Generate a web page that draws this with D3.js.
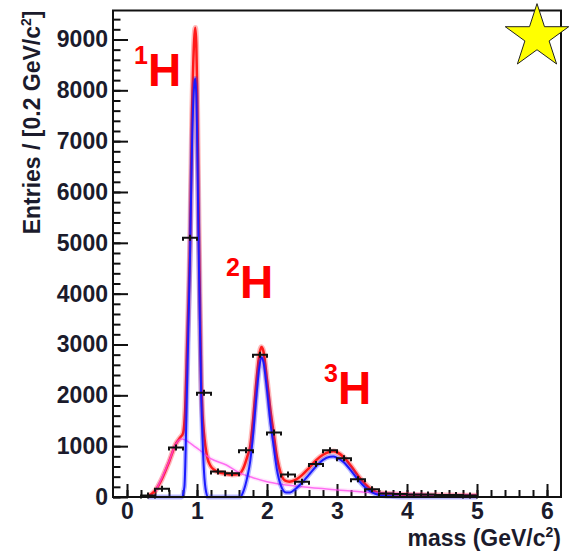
<!DOCTYPE html>
<html>
<head>
<meta charset="utf-8">
<script src="https://cdn.jsdelivr.net/npm/d3@7"></script>
<style>
  body { margin: 0; background: #fff; }
  text { font-family: "Liberation Sans", Arial, sans-serif; }
</style>
</head>
<body>
<svg id="chart" width="571" height="554"></svg>
<script>
// histogram bins (0.2 GeV wide)
var binCenters = [0.3, 0.5, 0.7, 0.9, 1.1, 1.3, 1.5, 1.7, 1.9, 2.1, 2.3, 2.5, 2.7, 2.9, 3.1, 3.3, 3.5, 3.7, 3.9, 4.1, 4.3, 4.5, 4.7, 4.9];
var binCounts  = [30, 160, 975, 5100, 2050, 500, 465, 920, 2800, 1270, 445, 300, 650, 920, 760, 350, 150, 70, 60, 50, 50, 40, 40, 30];

// fit curves: [mass, entries]
var fitTotal = [[0.30,20],[0.40,120],[0.50,360],[0.60,690],[0.70,1050],[0.76,1170],[0.80,1250],[0.83,1700],
    [0.86,3000],[0.90,5000],[0.93,7600],[0.96,9000],[0.975,9230],[0.99,8900],[1.00,8200],[1.02,5900],
    [1.04,4000],[1.06,2300],[1.08,1600],[1.10,1250],[1.12,1000],[1.15,760],[1.19,620],[1.25,530],
    [1.30,490],[1.40,460],[1.50,440],[1.60,450],[1.66,560],[1.72,800],[1.76,1000],[1.80,1500],
    [1.85,2300],[1.89,2800],[1.92,2950],[1.95,2860],[2.00,2300],[2.05,1700],[2.09,1300],[2.14,800],
    [2.20,450],[2.26,320],[2.32,300],[2.40,330],[2.50,430],[2.60,570],[2.70,720],[2.80,830],
    [2.90,890],[2.95,900],[3.00,880],[3.10,780],[3.20,610],[3.30,420],[3.40,260],[3.50,140],
    [3.60,80],[3.80,55],[4.00,45],[4.50,35],[5.00,30]];

var fitSignal = [[0.30,0],[0.78,0],[0.82,200],[0.86,2300],[0.90,4700],[0.93,7000],[0.96,8100],[0.975,8230],
    [0.99,7900],[1.00,7300],[1.02,5200],[1.04,3500],[1.06,2000],[1.08,1100],[1.10,500],[1.13,100],
    [1.16,0],[1.62,0],[1.66,100],[1.72,400],[1.76,700],[1.80,1200],[1.85,2000],[1.89,2550],
    [1.92,2750],[1.95,2650],[2.00,2100],[2.05,1450],[2.09,1050],[2.14,550],[2.20,220],[2.27,90],
    [2.33,90],[2.40,150],[2.50,280],[2.60,440],[2.70,600],[2.80,730],[2.90,790],[2.95,795],
    [3.00,770],[3.10,680],[3.20,520],[3.30,340],[3.40,190],[3.50,90],[3.60,40],[3.80,10],
    [4.00,0],[5.00,0]];

var fitBackground = [[0.40,100],[0.50,380],[0.60,700],[0.70,1050],[0.78,1140],[0.85,1110],[0.95,1010],
    [1.04,920],[1.19,760],[1.42,630],[1.60,480],[1.80,380],[2.00,300],[2.20,250],[2.50,200],
    [3.00,140],[3.50,90],[4.00,60],[4.50,40],[5.00,30]];

var xTickLabels = [0, 1, 2, 3, 4, 5, 6];
var yTickLabels = [0, 1000, 2000, 3000, 4000, 5000, 6000, 7000, 8000, 9000];

var isotopeLabels = [
    { mass: "1", x: 148, y: 86 },
    { mass: "2", x: 240, y: 298 },
    { mass: "3", x: 338, y: 404 }
];

function draw_chart()
{
    var padLeft = 113, padRight = 561, padTop = 10.5, padBottom = 497;
    var textColor = "#1b1b2c";

    var svg = d3.select("#chart");

    var x = d3.scaleLinear().domain([-0.2, 6.2]).range([padLeft, padRight]);
    var y = d3.scaleLinear().domain([0, 9570]).range([padBottom, padTop]);

    // minor ticks
    svg.append("g")
        .attr("transform", "translate(" + padLeft + ",0)")
        .call(d3.axisLeft(y).tickValues(d3.range(0, 9500, 200)).tickSize(-7.5).tickFormat(""))
        .call(function(g) { g.select(".domain").remove(); })
        .selectAll("line").attr("stroke", "#111").attr("stroke-width", 2);

    svg.append("g")
        .attr("transform", "translate(0," + padBottom + ")")
        .call(d3.axisBottom(x).tickValues(d3.range(0, 6.2, 0.2)).tickSize(-7).tickFormat(""))
        .call(function(g) { g.select(".domain").remove(); })
        .selectAll("line").attr("stroke", "#111").attr("stroke-width", 2);

    // major ticks with labels
    var yAxis = svg.append("g")
        .attr("transform", "translate(" + padLeft + ",0)")
        .call(d3.axisLeft(y).tickValues(yTickLabels).tickSize(-15).tickPadding(5).tickFormat(d3.format("d")));
    yAxis.select(".domain").remove();
    yAxis.selectAll("line").attr("stroke", "#111").attr("stroke-width", 2);
    yAxis.selectAll("text").attr("fill", textColor).style("font-size", "23px").style("font-weight", "bold");

    var xAxis = svg.append("g")
        .attr("transform", "translate(0," + padBottom + ")")
        .call(d3.axisBottom(x).tickValues(xTickLabels).tickSize(-13).tickPadding(6).tickFormat(d3.format("d")));
    xAxis.select(".domain").remove();
    xAxis.selectAll("line").attr("stroke", "#111").attr("stroke-width", 2);
    xAxis.selectAll("text").attr("fill", textColor).style("font-size", "23px").style("font-weight", "bold");

    // curves
    var line = d3.line()
        .x(function(d) { return x(d[0]); })
        .y(function(d) { return y(d[1]); })
        .curve(d3.curveMonotoneX);

    function drawCurve(data, color, width, glow, opacity) {
        svg.append("path").attr("d", line(data))
            .attr("fill", "none").attr("stroke", color)
            .attr("stroke-width", width + 3).attr("stroke-opacity", glow)
            .attr("stroke-linejoin", "round");
        svg.append("path").attr("d", line(data))
            .attr("fill", "none").attr("stroke", color)
            .attr("stroke-width", width).attr("stroke-opacity", opacity)
            .attr("stroke-linejoin", "round");
    }

    drawCurve(fitTotal, "#ff1a1a", 2.5, 0.3, 1);
    drawCurve(fitBackground, "#ff44ee", 1.5, 0.12, 0.75);
    drawCurve(fitSignal, "#1a1aff", 2, 0.3, 1);

    // data points with error bars
    var pts = svg.append("g").attr("stroke", "#111").attr("stroke-width", 2).attr("fill", "none");
    binCenters.forEach(function(m, i) {
        var cy = y(binCounts[i]);
        var x0 = x(m - 0.1), x1 = x(m + 0.1), cx = x(m);
        pts.append("path")
            .attr("d", "M" + x0 + "," + (cy + 3) + "V" + cy + "H" + x1 + "V" + (cy + 3));
        pts.append("line")
            .attr("x1", cx).attr("x2", cx).attr("y1", cy - 3).attr("y2", cy + 3);
    });

    // frame
    svg.append("rect")
        .attr("x", padLeft).attr("y", padTop)
        .attr("width", padRight - padLeft).attr("height", padBottom - padTop)
        .attr("fill", "none").attr("stroke", "#111").attr("stroke-width", 2);

    // axis titles
    var yt = svg.append("text")
        .attr("transform", "translate(40," + padTop + ") rotate(-90)")
        .attr("text-anchor", "end")
        .attr("fill", textColor)
        .style("font-size", "23px").style("font-weight", "bold");
    yt.append("tspan").text("Entries / [0.2 GeV/c");
    yt.append("tspan").attr("dy", -9).style("font-size", "14px").text("2");
    yt.append("tspan").attr("dy", 9).text("]");

    var xt = svg.append("text")
        .attr("x", padRight).attr("y", 546)
        .attr("text-anchor", "end")
        .attr("fill", textColor)
        .style("font-size", "23px").style("font-weight", "bold");
    xt.append("tspan").text("mass (GeV/c");
    xt.append("tspan").attr("dy", -9).style("font-size", "14px").text("2");
    xt.append("tspan").attr("dy", 9).text(")");

    // isotope labels
    isotopeLabels.forEach(function(d) {
        svg.append("text")
            .attr("x", d.x).attr("y", d.y - 22)
            .attr("text-anchor", "end")
            .attr("fill", "#ff0000")
            .style("font-size", "25px").style("font-weight", "bold")
            .text(d.mass);
        svg.append("text")
            .attr("x", d.x).attr("y", d.y)
            .attr("fill", "#ff0000")
            .style("font-size", "46px").style("font-weight", "bold")
            .text("H");
    });

    // star
    svg.append("path")
        .attr("d", d3.symbol().type(d3.symbolStar).size(1250)())
        .attr("transform", "translate(537,37)")
        .attr("fill", "#ffff00")
        .attr("stroke", "#222")
        .attr("stroke-width", 1);
}

draw_chart();
</script>
</body>
</html>
